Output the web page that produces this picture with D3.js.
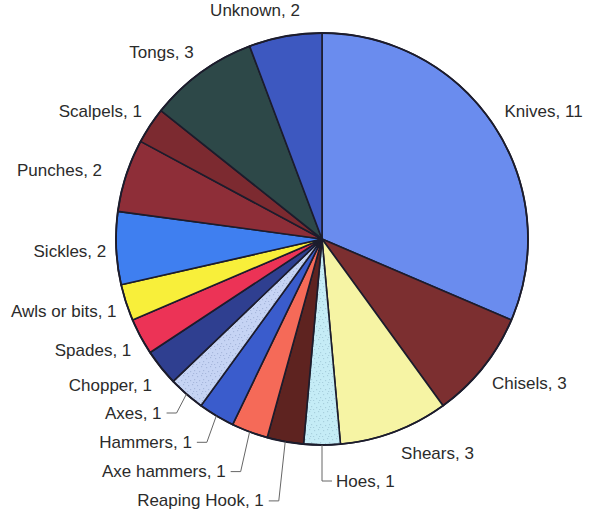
<!DOCTYPE html>
<html>
<head>
<meta charset="utf-8">
<script src="https://cdn.jsdelivr.net/npm/d3@7"></script>
<style>
  html, body { margin: 0; padding: 0; background: #ffffff; }
  svg { display: block; }
  .lbl { font-family: "Liberation Sans", Arial, Helvetica, sans-serif; font-size: 17px; fill: #2b2b2b; }
</style>
</head>
<body>
<svg id="chart" width="590" height="519"></svg>
<script>
// Tool types found, in clockwise order starting at 12 o'clock
const categories = [
  "Knives", "Chisels", "Shears", "Hoes", "Reaping Hook", "Axe hammers",
  "Hammers", "Axes", "Chopper", "Spades", "Awls or bits", "Sickles",
  "Punches", "Scalpels", "Tongs", "Unknown"
];
const counts = [11, 3, 3, 1, 1, 1, 1, 1, 1, 1, 1, 2, 2, 1, 3, 2];
const sliceColors = [
  "#6a8cee", "#7c2f30", "#f6f4a4", "#c5ecf6", "#5e2320", "#f56a58",
  "#3a5ccc", "#c6d4f4", "#2f3f90", "#ec3356", "#f8ef3a", "#3f7ff0",
  "#8e2e38", "#7c2a30", "#2d4848", "#3d58c0"
];
// Slices whose labels hang below the pie on elbow leader lines
const leaderLeft = ["Axes", "Hammers", "Axe hammers", "Reaping Hook"];
const leaderRight = ["Hoes"];
// Speckled fills
const speckled = ["Hoes", "Axes"];

const data = categories.map((c, i) => ({ name: c, value: counts[i], color: sliceColors[i] }));

const svg = d3.select("#chart");
const cx = 322, cy = 239, r = 206;

// speckle texture patterns
const defs = svg.append("defs");
function speckPattern(id, base, dot) {
  const p = defs.append("pattern").attr("id", id).attr("patternUnits", "userSpaceOnUse")
    .attr("width", 9).attr("height", 9);
  p.append("rect").attr("width", 9).attr("height", 9).attr("fill", base);
  [[1, 2], [5, 1], [3, 6], [7, 5], [0, 8], [6, 8]].forEach(([x, y]) =>
    p.append("rect").attr("x", x).attr("y", y).attr("width", 1.2).attr("height", 1.2)
      .attr("fill", dot).attr("opacity", 0.55));
}
speckPattern("speck-Hoes", "#c5ecf6", "#8fb8c8");
speckPattern("speck-Axes", "#c6d4f4", "#8e9fc8");

const pie = d3.pie().value(d => d.value).sort(null).startAngle(0).endAngle(2 * Math.PI);
const arcs = pie(data);
const arc = d3.arc().innerRadius(0).outerRadius(r);

const g = svg.append("g").attr("transform", `translate(${cx},${cy})`);

g.selectAll("path.slice")
  .data(arcs)
  .enter().append("path")
  .attr("class", "slice")
  .attr("d", arc)
  .attr("fill", d => speckled.includes(d.data.name) ? `url(#speck-${d.data.name})` : d.data.color)
  .attr("stroke", "#1c1c2c")
  .attr("stroke-width", 1.6)
  .attr("stroke-linejoin", "round");

// outer rim
g.append("circle").attr("r", r).attr("fill", "none").attr("stroke", "#1c1c2c").attr("stroke-width", 1.8);

const midAngle = d => (d.startAngle + d.endAngle) / 2;
const labelText = d => `${d.data.name}, ${d.data.value}`;

// Regular outside labels: box pushed off a ring just beyond the rim,
// with small hand nudges where neighbouring labels were spread apart
const ringR = r + 18;
const labelNudge = {
  "Unknown": [-19, 0], "Shears": [24, -3], "Chisels": [3, 0], "Knives": [2, 0],
  "Tongs": [-10, 1], "Punches": [-9, 3], "Sickles": [8, 2], "Awls or bits": [5, 1],
  "Spades": [2, 2], "Chopper": [-4, 2]
};
arcs.filter(d => !leaderLeft.includes(d.data.name) && !leaderRight.includes(d.data.name))
  .forEach(d => {
    const a = midAngle(d);
    const s = Math.sin(a), c = Math.cos(a);
    const t = g.append("text").attr("class", "lbl")
      .attr("text-anchor", "middle").attr("dominant-baseline", "central")
      .text(labelText(d));
    const w = t.node().getComputedTextLength();
    const h = 16;
    const n = labelNudge[d.data.name] || [0, 0];
    t.attr("x", ringR * s + (w / 2) * s + n[0])
     .attr("y", -ringR * c - (h / 2) * c + n[1]);
  });

// Leader labels below the pie
const rowTop = 174, rowStep = 29.3;
function leader(d, rowY, side) {
  const a = midAngle(d);
  const s = Math.sin(a), c = Math.cos(a);
  const ex = r * s, ey = -r * c;
  let bx;
  if (side === "left") {
    const t = rowY / (-c);
    const radialX = t * s;
    bx = ex + (radialX - ex) * 0.6;
  } else {
    bx = ex;
  }
  const hx = side === "left" ? bx - 10 : bx + 10;
  g.append("path")
    .attr("d", d3.line()([[ex, ey], [bx, rowY], [hx, rowY]]))
    .attr("fill", "none").attr("stroke", "#666").attr("stroke-width", 1);
  g.append("text").attr("class", "lbl")
    .attr("x", side === "left" ? hx - 5 : hx + 4)
    .attr("y", rowY)
    .attr("dominant-baseline", "central")
    .attr("text-anchor", side === "left" ? "end" : "start")
    .text(labelText(d));
}
leaderLeft.forEach((name, i) => {
  const d = arcs.find(a => a.data.name === name);
  leader(d, rowTop + i * rowStep, "left");
});
leaderRight.forEach(name => {
  const d = arcs.find(a => a.data.name === name);
  leader(d, 242, "right");
});
</script>
</body>
</html>
